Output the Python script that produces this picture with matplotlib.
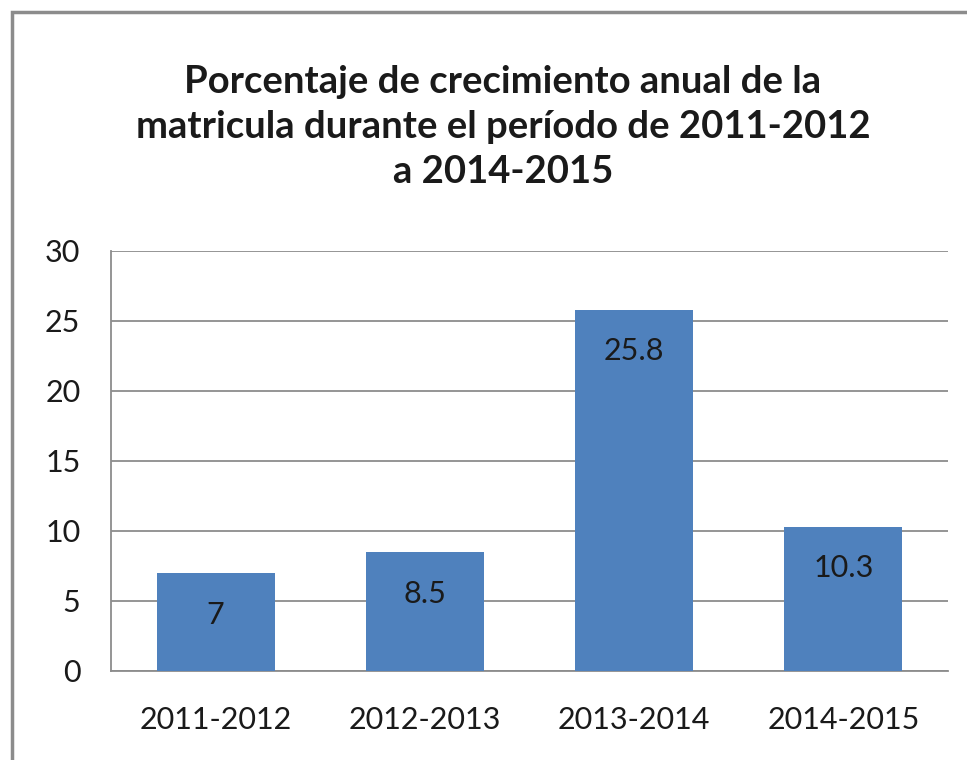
import matplotlib.pyplot as plt
from matplotlib.patches import Rectangle

periods = ['2011-2012', '2012-2013', '2013-2014', '2014-2015']
growth = [7, 8.5, 25.8, 10.3]
value_labels = ['7', '8.5', '25.8', '10.3']
yticks = [0, 5, 10, 15, 20, 25, 30]

plt.rcParams['font.family'] = ['Lato', 'DejaVu Sans']

fig = plt.figure(figsize=(9.67, 7.6), dpi=100)
W, H = 967, 760

# outer chart border (runs off the right and bottom edge)
fig.patches.append(Rectangle((12 / W, -0.05), 1.2, 1 - 12 / H + 0.05,
                             transform=fig.transFigure, fill=False,
                             edgecolor='#8c8c8c', linewidth=2.5))

ax = fig.add_axes([111 / W, 1 - 671 / H, (948 - 111) / W, (671 - 251) / H])
x = range(len(periods))
bars = ax.bar(x, growth, width=0.565, color='#4f81bd', zorder=3)
ax.set_xlim(-0.5, 3.5)
ax.set_ylim(0, 30)
ax.set_yticks(yticks)
ax.set_xticks(list(x))
ax.set_xticklabels(periods)
ax.tick_params(length=0, labelsize=22, colors='#1a1a1a')
ax.tick_params(axis='x', pad=25)
ax.tick_params(axis='y', pad=22)
ax.grid(axis='y', color='#8c8c8c', linewidth=1.3, zorder=0)
for side in ['top', 'right']:
    ax.spines[side].set_visible(False)
for side in ['left', 'bottom']:
    ax.spines[side].set_color('#8c8c8c')
    ax.spines[side].set_linewidth(1.3)

for xi, v, lab in zip(x, growth, value_labels):
    ax.annotate(lab, (xi, v), xytext=(0, -30), textcoords='offset points',
                ha='center', va='center', fontsize=22, color='#1a1a1a', zorder=4)

fig.text(0.52, 1 - 127 / H,
         'Porcentaje de crecimiento anual de la\nmatricula durante el período de 2011-2012\na 2014-2015',
         ha='center', va='center', fontsize=27.5, fontweight='bold',
         linespacing=1.4, color='#1a1a1a')

fig.savefig('out.png', dpi=100)
